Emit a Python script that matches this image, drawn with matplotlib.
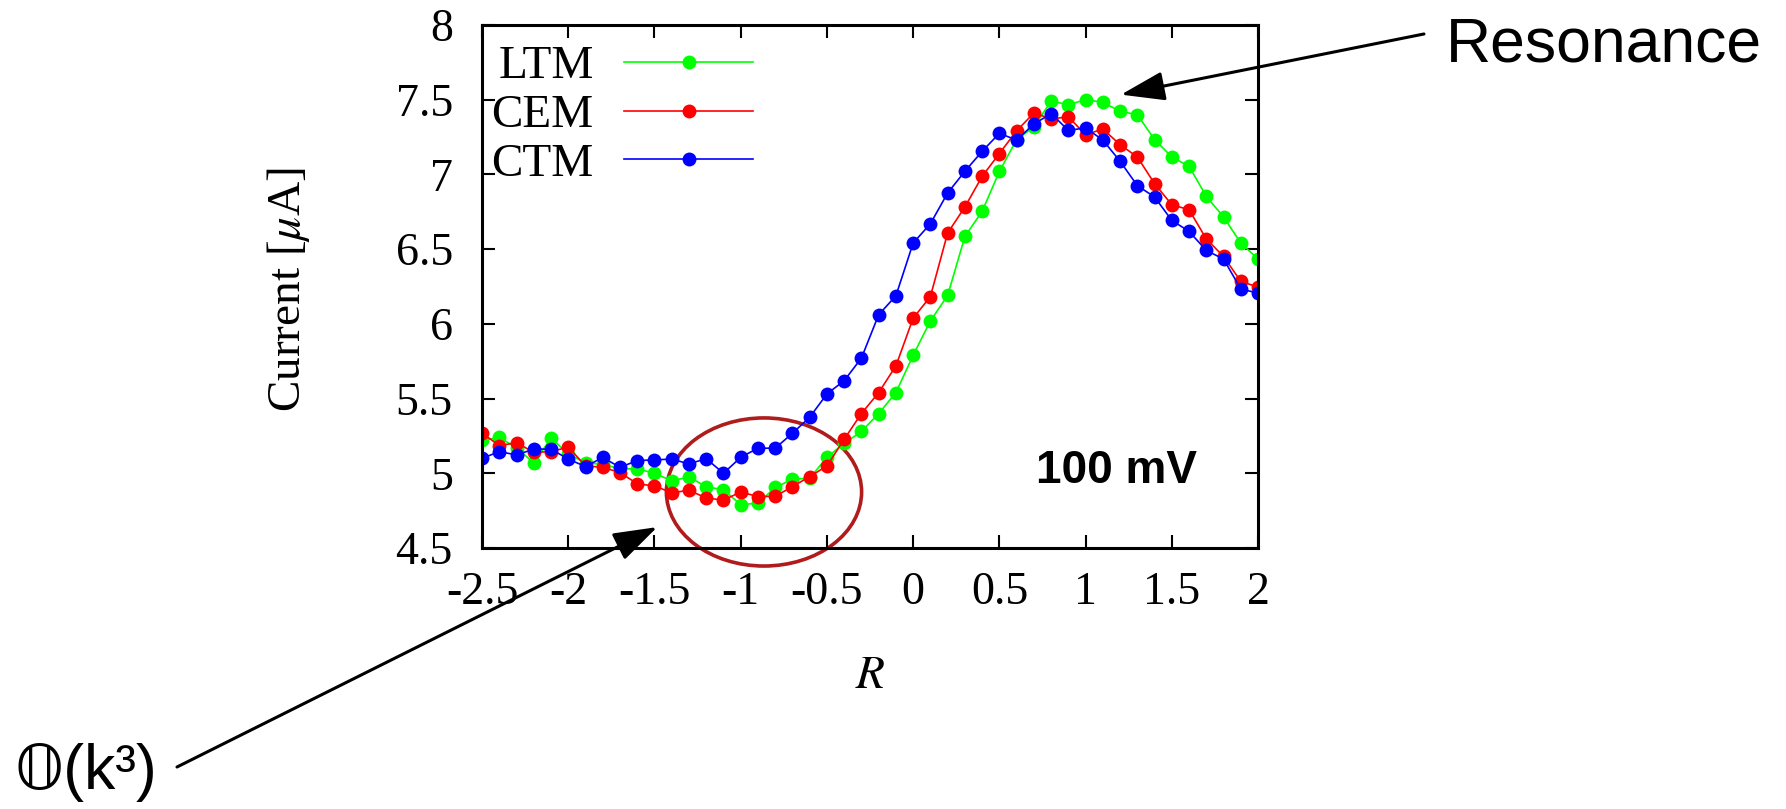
"""Current vs R for the three models at 100 mV."""

import matplotlib
matplotlib.use("Agg")
from matplotlib import pyplot as plt
from matplotlib.patches import Ellipse
from matplotlib.ticker import FormatStrFormatter, MultipleLocator

# sweep positions
r_values = [-2.5, -2.4, -2.3, -2.2, -2.1, -2.0, -1.9, -1.8, -1.7, -1.6,
            -1.5, -1.4, -1.3, -1.2, -1.1, -1.0, -0.9, -0.8, -0.7, -0.6,
            -0.5, -0.4, -0.3, -0.2, -0.1, 0.0, 0.1, 0.2, 0.3, 0.4,
            0.5, 0.6, 0.7, 0.8, 0.9, 1.0, 1.1, 1.2, 1.3, 1.4,
            1.5, 1.6, 1.7, 1.8, 1.9, 2.0]

ltm = [5.22, 5.24, 5.17, 5.07, 5.235, 5.13, 5.07, 5.06, 5.03, 5.03,
       5.00, 4.95, 4.975, 4.91, 4.89, 4.79, 4.80, 4.905, 4.96, 4.967,
       5.107, 5.20, 5.28, 5.40, 5.54, 5.79, 6.02, 6.19, 6.585, 6.753,
       7.02, 7.233, 7.32, 7.49, 7.467, 7.50, 7.483, 7.422, 7.40, 7.233,
       7.117, 7.054, 6.853, 6.715, 6.541, 6.434]

cem = [5.27, 5.185, 5.205, 5.14, 5.145, 5.175, 5.05, 5.04, 5.005, 4.93,
       4.915, 4.87, 4.886, 4.835, 4.82, 4.875, 4.844, 4.846, 4.911, 4.978,
       5.049, 5.228, 5.40, 5.54, 5.719, 6.038, 6.183, 6.608, 6.782, 6.987,
       7.14, 7.292, 7.411, 7.372, 7.385, 7.266, 7.304, 7.199, 7.117, 6.938,
       6.797, 6.764, 6.568, 6.451, 6.284, 6.246]

ctm = [5.10, 5.145, 5.123, 5.162, 5.162, 5.095, 5.045, 5.106, 5.04, 5.085,
       5.09, 5.095, 5.063, 5.098, 5.00, 5.107, 5.168, 5.168, 5.268, 5.375,
       5.531, 5.62, 5.771, 6.061, 6.188, 6.541, 6.670, 6.876, 7.021, 7.155,
       7.275, 7.23, 7.337, 7.407, 7.295, 7.311, 7.23, 7.088, 6.925, 6.849,
       6.692, 6.619, 6.491, 6.434, 6.233, 6.206]

series_labels = ["LTM", "CEM", "CTM"]
series_colors = ["#00ff00", "#ff0000", "#0000ff"]

plt.rcParams["font.family"] = ["Liberation Serif", "DejaVu Serif"]
plt.rcParams["mathtext.fontset"] = "stix"
plt.rcParams["axes.unicode_minus"] = False

fig = plt.figure(figsize=(17.86, 8.09), dpi=100)
ax = fig.add_axes([0.2699, 0.3226, 0.4345, 0.6465])

for values, label, color in zip([ltm, cem, ctm], series_labels, series_colors):
    ax.plot(r_values, values, "-o", color=color, label=label,
            lw=1.2, markersize=10, markeredgewidth=0)

ax.set_xlim(-2.5, 2.0)
ax.set_ylim(4.5, 8.0)
ax.xaxis.set_major_locator(MultipleLocator(0.5))
ax.yaxis.set_major_locator(MultipleLocator(0.5))
ax.xaxis.set_major_formatter(FormatStrFormatter("%g"))
ax.yaxis.set_major_formatter(FormatStrFormatter("%g"))
ax.tick_params(direction="in", top=True, right=True, length=9.5, width=1.5,
               labelsize=33)
ax.tick_params(axis="x", pad=17)
ax.tick_params(axis="y", pad=21)
for spine in ax.spines.values():
    spine.set_linewidth(2.2)

ax.set_xlabel("$R$", fontsize=34, va="top")
ax.xaxis.set_label_coords(0.5, -0.205)
ax.set_ylabel(r"Current [$\mu$A]", fontsize=34)
ax.yaxis.set_label_coords(-0.219, 0.495)

ax.legend(loc="upper left", bbox_to_anchor=(0.012, 0.961), frameon=False,
          markerfirst=False, fontsize=34, handlelength=2.74,
          handletextpad=0.64, labelspacing=0.12, borderpad=0.0,
          borderaxespad=0.0)

ax.text(1.18, 5.016, "100 mV", fontsize=33, fontweight="bold",
        family=["Liberation Sans"], ha="center", va="center")

# circled region around the dip
ax.add_patch(Ellipse((-0.865, 4.875), 1.132, 0.991, fill=False,
                     edgecolor="#b01c1c", lw=2.6, clip_on=False))

arrow = dict(arrowstyle="-|>,head_length=2.7,head_width=0.9",
             mutation_scale=10, color="k", lw=2.2, shrinkA=0, shrinkB=0)
ax.annotate("", xy=(1.205, 7.534), xycoords="data",
            xytext=(0.7973, 0.958), textcoords="figure fraction",
            arrowprops=arrow, annotation_clip=False)
ax.annotate("", xy=(-1.484, 4.64), xycoords="data",
            xytext=(0.0991, 0.0519), textcoords="figure fraction",
            arrowprops=arrow, annotation_clip=False)

fig.text(0.8096, 0.9234, "Resonance", fontsize=45,
         family=["Liberation Sans"], va="baseline")
fig.text(0.0084, 0.0247, "\U0001D546(k³)", fontsize=45,
         family=["Liberation Sans", "DejaVu Sans"], va="baseline")

fig.savefig("out.png", dpi=100)
